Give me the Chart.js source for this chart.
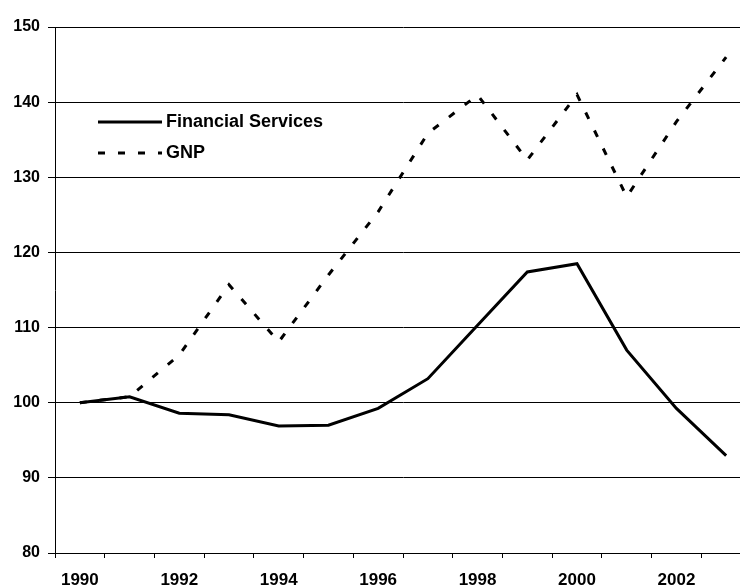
<!DOCTYPE html>
<html>
<head>
<meta charset="utf-8">
<script src="https://cdn.jsdelivr.net/npm/chart.js@4/dist/chart.umd.min.js"></script>
<style>
  html, body { margin: 0; padding: 0; background: #fff; overflow: hidden; }
  #wrap { width: 760px; height: 586px; }
</style>
</head>
<body>
<div id="wrap"><canvas id="chart" width="760" height="586"></canvas></div>
<script>
const years = ["1990", "1991", "1992", "1993", "1994", "1995", "1996",
  "1997", "1998", "1999", "2000", "2001", "2002", "2003"];
const financialServices = [100, 100.8, 98.6, 98.4, 96.9, 97.0, 99.25,
  103.2, 110.3, 117.4, 118.5, 107.0, 99.25, 92.95];
const gnp = [100, 100.8, 106.35, 115.7, 108.1, 117.0, 125.4,
  135.85, 140.95, 132.3, 141.0, 127.4, 137.4, 146.0];

const FONT = "'Liberation Sans', Arial, sans-serif";

// legend drawn inside the plot, top left
const insideLegend = {
  id: "insideLegend",
  afterDatasetsDraw(chart) {
    const ctx = chart.ctx;
    const rows = [122, 153];
    ctx.save();
    chart.data.datasets.forEach((ds, i) => {
      const y = rows[i];
      ctx.beginPath();
      ctx.lineWidth = ds.borderWidth;
      ctx.strokeStyle = ds.borderColor;
      ctx.setLineDash(ds.borderDash || []);
      ctx.moveTo(98, y);
      ctx.lineTo(162, y);
      ctx.stroke();
      ctx.setLineDash([]);
      ctx.fillStyle = "#000";
      ctx.font = "bold 18px " + FONT;
      ctx.textBaseline = "middle";
      ctx.fillText(ds.label, 166, y);
    });
    ctx.restore();
  }
};

new Chart(document.getElementById("chart"), {
  type: "line",
  data: {
    labels: years,
    datasets: [
      {
        label: "Financial Services",
        data: financialServices,
        borderColor: "#000",
        borderWidth: 3,
        pointRadius: 0,
        tension: 0
      },
      {
        label: "GNP",
        data: gnp,
        borderColor: "#000",
        borderWidth: 3,
        borderDash: [7, 13],
        pointRadius: 0,
        tension: 0
      }
    ]
  },
  options: {
    responsive: false,
    animation: false,
    layout: { padding: { top: 27, right: 9, left: 0, bottom: 0 } },
    plugins: {
      legend: { display: false },
      tooltip: { enabled: false }
    },
    scales: {
      x: {
        offset: true,
        afterFit: (s) => { s.height = 33; },
        grid: {
          offset: true,
          drawOnChartArea: false,
          drawTicks: true,
          tickLength: 5,
          color: "#000"
        },
        border: { display: true, color: "#000", width: 1 },
        ticks: {
          autoSkip: false,
          maxRotation: 0,
          padding: 12,
          color: "#000",
          font: { family: FONT, size: 17, weight: "bold" },
          callback: function (val, idx) {
            return idx % 2 === 0 ? this.getLabelForValue(val) : "";
          }
        }
      },
      y: {
        min: 80,
        max: 150,
        afterFit: (s) => { s.width = 55; },
        grid: {
          color: "#000",
          lineWidth: 1,
          tickLength: 7
        },
        border: { display: true, color: "#000", width: 1 },
        ticks: {
          stepSize: 10,
          padding: 8,
          color: "#000",
          font: { family: FONT, size: 16, weight: "bold" }
        }
      }
    }
  },
  plugins: [insideLegend]
});
</script>
</body>
</html>
